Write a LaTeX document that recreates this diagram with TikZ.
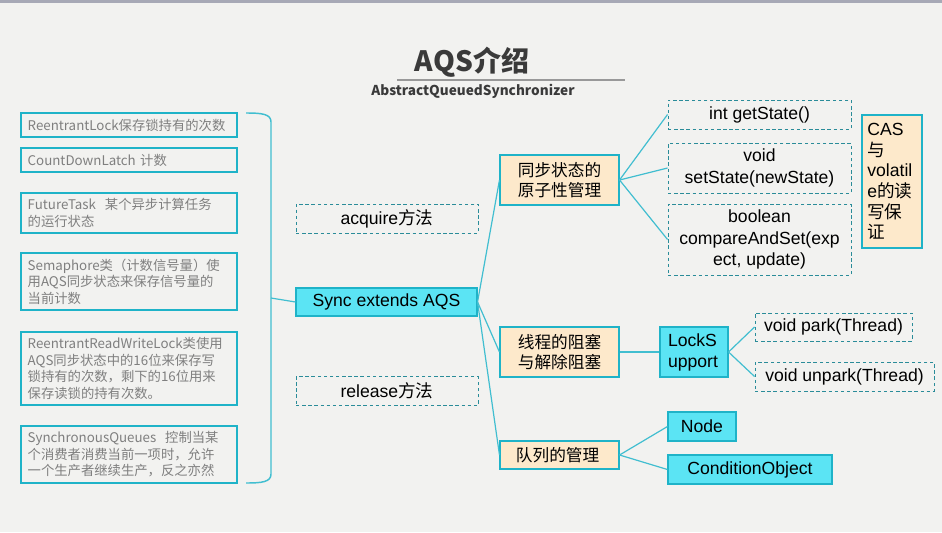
\documentclass[tikz,border=0pt]{standalone}
\usepackage{fontspec}
\setmainfont{Liberation Sans}
\newfontfamily\yhfont{Noto Sans CJK SC}
\newcommand{\zh}[1]{{\yhfont #1}}

\definecolor{paper}{HTML}{F2F2F0}
\definecolor{topbar}{HTML}{A7A9B6}
\definecolor{tealline}{HTML}{1FB3C8}
\definecolor{tealfill}{HTML}{5BE4F4}
\definecolor{peach}{HTML}{FDE9CB}
\definecolor{dashteal}{HTML}{2A8C99}
\definecolor{usagetext}{HTML}{7F7F7F}
\definecolor{titlegray}{HTML}{3A3A3A}

\begin{document}
\begin{tikzpicture}[
    x=0.75pt,
    y=-0.75pt,
    every node/.style={
        font=\fontsize{13.2pt}{16.3pt}\selectfont,
        inner sep=0pt
    },
    usagebox/.style={
        rectangle,
        draw=tealline,
        line width=1.1pt,
        fill=paper,
        text width=152pt,
        inner xsep=5pt,
        align=left,
        text=usagetext,
        font=\yhfont\fontsize{10pt}{12.4pt}\selectfont
    },
    corebox/.style={
        rectangle,
        draw=tealline,
        line width=0.8pt,
        fill=tealfill
    },
    methodbox/.style={
        rectangle,
        draw=dashteal,
        line width=0.7pt,
        dash pattern=on 2.6pt off 2pt,
        align=center
    },
    topicbox/.style={
        rectangle,
        draw=tealline,
        line width=0.8pt,
        fill=peach,
        minimum width=89.25pt,
        align=center,
        font=\yhfont\fontsize{12.5pt}{15pt}\selectfont
    },
    link/.style={
        draw=tealline!85,
        line width=0.9pt
    }
]

% ==========================================================
% Canvas and title
% ==========================================================
\fill[paper] (0,0) rectangle (942,532);
\fill[topbar] (0,0) rectangle (942,2.5);

\node[
    font=\yhfont\bfseries\fontsize{21pt}{24pt}\selectfont,
    text=titlegray
] (title) at (472,62) {AQS介绍};

\draw[black!40, line width=0.8pt] (397,80) -- (625,80);

\node[
    font=\yhfont\bfseries\fontsize{10.2pt}{12pt}\selectfont,
    text=titlegray
] (subtitle) at (473,91) {AbstractQueuedSynchronizer};

% ==========================================================
% Users of the synchronizer
% ==========================================================
\node[usagebox, minimum height=18pt] (rlock) at (129,125) {
    ReentrantLock保存锁持有的次数
};

\node[usagebox, minimum height=18pt] (latch) at (129,160) {
    CountDownLatch 计数
};

\node[usagebox, minimum height=30pt] (ftask) at (129,213) {
    FutureTask\ \ 某个异步计算任务\\
    的运行状态
};

\node[usagebox, minimum height=42.75pt] (sema) at (129,281.5) {
    Semaphore类（计数信号量）使\\
    用AQS同步状态来保存信号量的\\
    当前计数
};

\node[usagebox, minimum height=54.75pt] (rwlock) at (129,368.5) {
    ReentrantReadWriteLock类使用\\
    AQS同步状态中的16位来保存写\\
    锁持有的次数，剩下的16位用来\\
    保存读锁的持有次数。
};

\node[usagebox, minimum height=42.75pt] (squeue) at (129,454.5) {
    SynchronousQueues\ \ 控制当某\\
    个消费者消费当前一项时，允许\\
    一个生产者继续生产，反之亦然
};

\coordinate (bracetop) at (246,113);
\coordinate (bracemid) at (271,298);
\coordinate (bracebot) at (246,483);

\draw[link, line width=1.1pt]
    (bracetop) .. controls (262,113) and (271,114) .. (271,122)
    -- (271,474)
    .. controls (271,482) and (262,483) .. (bracebot);

% ==========================================================
% Core class and its methods
% ==========================================================
\node[
    corebox,
    minimum width=135.75pt,
    minimum height=21pt
] (sync) at (386.5,302) {Sync extends AQS};

\node[
    methodbox,
    minimum width=136.5pt,
    minimum height=21.75pt
] (acquire) at (387,218.5) {acquire\zh{方法}};

\node[
    methodbox,
    minimum width=136.5pt,
    minimum height=21.75pt
] (release) at (387,391) {release\zh{方法}};

\draw[link] (bracemid) -- (sync.west);

% ==========================================================
% Three concerns
% ==========================================================
\node[topicbox, minimum height=37.5pt] (state) at (559.5,180) {
    同步状态的\\原子性管理
};

\node[topicbox, minimum height=37.5pt] (block) at (559.5,352) {
    线程的阻塞\\与解除阻塞
};

\node[topicbox, minimum height=21pt] (queue) at (559.5,455) {
    队列的管理
};

\draw[link] (sync.east) -- (state.west);
\draw[link] (sync.east) -- (block.west);
\draw[link] (sync.east) -- (queue.west);

% ==========================================================
% State access
% ==========================================================
\node[
    methodbox,
    minimum width=137.25pt,
    minimum height=21.75pt
] (getstate) at (759.5,114.5) {int getState()};

\node[
    methodbox,
    minimum width=137.25pt,
    minimum height=37.5pt
] (setstate) at (759.5,168) {void\\setState(newState)};

\node[
    methodbox,
    minimum width=137.25pt,
    minimum height=53.25pt
] (casset) at (759.5,239.5) {boolean\\compareAndSet(exp\\ect, update)};

\node[
    rectangle,
    draw=tealline,
    line width=0.8pt,
    fill=peach,
    minimum height=99.75pt,
    text width=37pt,
    inner xsep=4pt,
    align=left,
    font=\fontsize{13.2pt}{15.5pt}\selectfont
] (casnote) at (892,181.5) {
    CAS\\\zh{与}\\volatil\\e\zh{的读}\\\zh{写保}\\\zh{证}
};

\draw[link] (state.east) -- (getstate.west);
\draw[link] (state.east) -- (setstate.west);
\draw[link] (state.east) -- (casset.west);

% ==========================================================
% Blocking and queueing
% ==========================================================
\node[
    corebox,
    minimum height=37.5pt,
    text width=39pt,
    inner xsep=6pt,
    align=left,
    font=\fontsize{13.2pt}{15.8pt}\selectfont
] (support) at (694,352) {LockS\\upport};

\node[
    methodbox,
    minimum width=117.75pt,
    minimum height=21pt
] (park) at (833.5,327) {void park(Thread)};

\node[
    methodbox,
    minimum width=134.25pt,
    minimum height=21.75pt
] (unpark) at (844.5,376.5) {void unpark(Thread)};

\node[
    corebox,
    minimum width=51pt,
    minimum height=21.75pt
] (qnode) at (702,426.5) {Node};

\node[
    corebox,
    minimum width=123pt,
    minimum height=21.75pt
] (condobj) at (750,469.5) {ConditionObject};

\draw[link] (block.east) -- (support.west);
\draw[link] (support.east) -- (park.west);
\draw[link] (support.east) -- (unpark.west);

\draw[link] (queue.east) -- (qnode.west);
\draw[link] (queue.east) -- (condobj.west);

\end{tikzpicture}
\end{document}
